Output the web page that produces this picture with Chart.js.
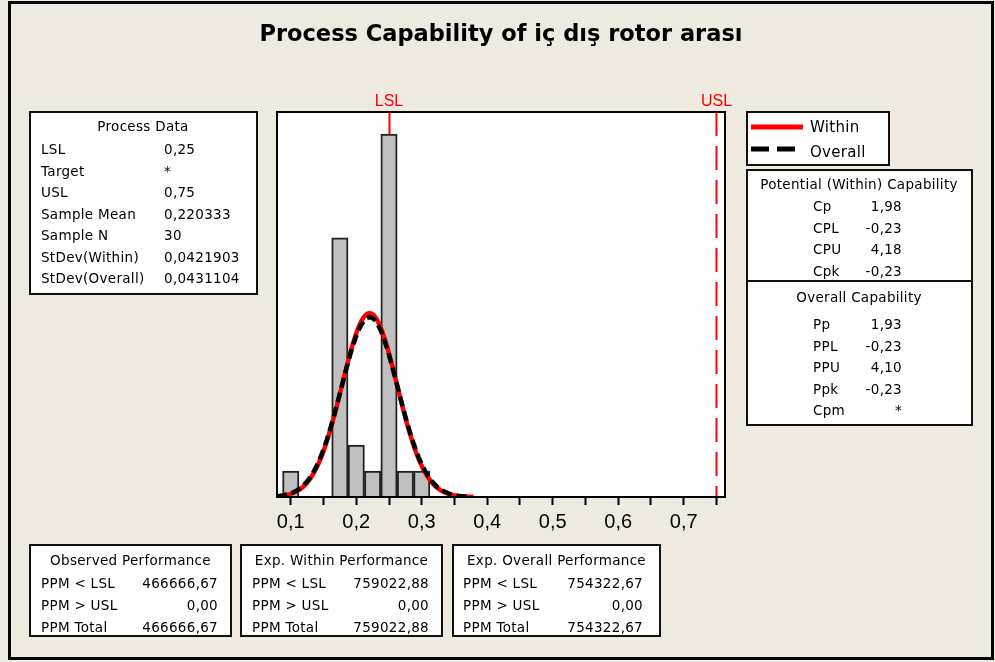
<!DOCTYPE html>
<html>
<head>
<meta charset="utf-8">
<script src="https://cdn.jsdelivr.net/npm/chart.js@4.4.1/dist/chart.umd.min.js"></script>
<style>
  html, body { margin: 0; padding: 0; background: #eeeae0; }
  canvas { display: block; }
</style>
</head>
<body>
<canvas id="capChart" width="995" height="662"></canvas>
<script>
// histogram of the sample (bin centres and counts)
const binCenters = [0.1, 0.125, 0.15, 0.175, 0.2, 0.225, 0.25, 0.275, 0.3];
const binCounts = [1, 0, 0, 10, 2, 1, 14, 1, 1];
const binWidth = 0.025;

// spec limits and fitted stats (from the Process Data box)
const lsl = 0.25;
const usl = 0.75;
const sampleMean = 0.220333;
const sampleN = 30;
const stdevWithin = 0.0421903;
const stdevOverall = 0.0431104;

const xTickValues = [0.1, 0.15, 0.2, 0.25, 0.3, 0.35, 0.4, 0.45, 0.5, 0.55, 0.6, 0.65, 0.7, 0.75];
const xTickLabels = ['0,1', '', '0,2', '', '0,3', '', '0,4', '', '0,5', '', '0,6', '', '0,7', ''];

const processLabels = ['LSL', 'Target', 'USL', 'Sample Mean', 'Sample N', 'StDev(Within)', 'StDev(Overall)'];
const processValues = ['0,25', '*', '0,75', '0,220333', '30', '0,0421903', '0,0431104'];

const withinLabels = ['Cp', 'CPL', 'CPU', 'Cpk'];
const withinValues = ['1,98', '-0,23', '4,18', '-0,23'];
const overallLabels = ['Pp', 'PPL', 'PPU', 'Ppk', 'Cpm'];
const overallValues = ['1,93', '-0,23', '4,10', '-0,23', '*'];

const perfLabels = ['PPM < LSL', 'PPM > USL', 'PPM Total'];
const observedPerf = ['466666,67', '0,00', '466666,67'];
const expWithinPerf = ['759022,88', '0,00', '759022,88'];
const expOverallPerf = ['754322,67', '0,00', '754322,67'];

const xMin = 0.079;
const xMax = 0.763;

// normal curve scaled to histogram counts
function normalCurve(sd, from, to) {
    const pts = [];
    for (let x = from; x <= to + 1e-9; x += 0.004) {
        const z = (x - sampleMean) / sd;
        pts.push({ x: x, y: sampleN * binWidth * Math.exp(-0.5 * z * z) / (sd * Math.sqrt(2 * Math.PI)) });
    }
    return pts;
}

function drawBox(ctx, l, t, r, b) {
    ctx.fillStyle = '#fff';
    ctx.fillRect(l, t, r - l, b - t);
    ctx.strokeStyle = '#111';
    ctx.lineWidth = 2;
    ctx.strokeRect(l, t, r - l, b - t);
}

const boxFont = '13.5px "DejaVu Sans"';

function drawPerfBox(ctx, l, t, r, b, title, values, labelX, valueX) {
    drawBox(ctx, l, t, r, b);
    ctx.fillStyle = '#000';
    ctx.textAlign = 'center';
    ctx.fillText(title, (l + r) / 2, 565);
    perfLabels.forEach((lab, i) => {
        const y = 588 + i * 22;
        ctx.textAlign = 'left';
        ctx.fillText(lab, labelX, y);
        ctx.textAlign = 'right';
        ctx.fillText(values[i], valueX, y);
    });
}

const decorPlugin = {
    id: 'decor',
    beforeDraw(chart) {
        const ctx = chart.ctx;
        const a = chart.chartArea;
        ctx.save();
        ctx.fillStyle = '#eeeae0';
        ctx.fillRect(0, 0, chart.width, chart.height);
        ctx.strokeStyle = '#000';
        ctx.lineWidth = 3;
        ctx.strokeRect(9.5, 2.5, 983, 656);
        ctx.fillStyle = '#fff';
        ctx.fillRect(a.left, a.top, a.right - a.left, a.bottom - a.top);
        ctx.restore();
    },
    beforeDatasetsDraw(chart) {
        const ctx = chart.ctx;
        const a = chart.chartArea;
        const xs = chart.scales.x;
        ctx.save();
        ctx.strokeStyle = '#ff0000';
        ctx.lineWidth = 2;
        ctx.setLineDash([24, 10]);
        [lsl, usl].forEach(v => {
            const px = Math.round(xs.getPixelForValue(v)) + 0.5;
            ctx.beginPath();
            ctx.moveTo(px, a.top);
            ctx.lineTo(px, a.bottom);
            ctx.stroke();
        });
        ctx.setLineDash([]);
        ctx.fillStyle = '#ff0000';
        ctx.font = '16px "Liberation Sans"';
        ctx.textAlign = 'center';
        ctx.fillText('LSL', xs.getPixelForValue(lsl), 106);
        ctx.fillText('USL', xs.getPixelForValue(usl), 106);
        ctx.restore();
    },
    afterDatasetsDraw(chart) {
        const ctx = chart.ctx;
        const a = chart.chartArea;
        ctx.save();
        ctx.strokeStyle = '#000';
        ctx.lineWidth = 2;
        ctx.strokeRect(a.left, a.top, a.right - a.left, a.bottom - a.top);
        ctx.restore();
    },
    afterDraw(chart) {
        const ctx = chart.ctx;
        ctx.save();
        ctx.fillStyle = '#000';
        ctx.font = 'bold 22.5px "DejaVu Sans"';
        ctx.textAlign = 'center';
        ctx.fillText('Process Capability of iç dış rotor arası', 501, 41);

        ctx.font = boxFont;
        ctx.letterSpacing = '0.3px';

        // process data
        drawBox(ctx, 30, 112, 257, 294);
        ctx.fillStyle = '#000';
        ctx.textAlign = 'center';
        ctx.fillText('Process Data', 143, 131);
        processLabels.forEach((lab, i) => {
            const y = 154 + i * 21.5;
            ctx.textAlign = 'left';
            ctx.fillText(lab, 41, y);
            ctx.fillText(processValues[i], 164, y);
        });

        // legend
        drawBox(ctx, 747, 112, 889, 165);
        ctx.lineWidth = 5;
        ctx.strokeStyle = '#ff0000';
        ctx.beginPath(); ctx.moveTo(751, 127); ctx.lineTo(803, 127); ctx.stroke();
        ctx.strokeStyle = '#000';
        ctx.setLineDash([18, 8]);
        ctx.beginPath(); ctx.moveTo(751, 149); ctx.lineTo(803, 149); ctx.stroke();
        ctx.setLineDash([]);
        ctx.fillStyle = '#000';
        ctx.font = '15px "DejaVu Sans"';
        ctx.textAlign = 'left';
        ctx.fillText('Within', 810, 132);
        ctx.fillText('Overall', 810, 157);

        // capability
        ctx.font = boxFont;
        drawBox(ctx, 747, 170, 972, 425);
        ctx.lineWidth = 2;
        ctx.beginPath(); ctx.moveTo(747, 281); ctx.lineTo(972, 281); ctx.stroke();
        ctx.fillStyle = '#000';
        ctx.textAlign = 'center';
        ctx.fillText('Potential (Within) Capability', 859, 189);
        ctx.fillText('Overall Capability', 859, 302);
        withinLabels.forEach((lab, i) => {
            const y = 211 + i * 21.7;
            ctx.textAlign = 'left';
            ctx.fillText(lab, 813, y);
            ctx.textAlign = 'right';
            ctx.fillText(withinValues[i], 902, y);
        });
        overallLabels.forEach((lab, i) => {
            const y = 329 + i * 21.5;
            ctx.textAlign = 'left';
            ctx.fillText(lab, 813, y);
            ctx.textAlign = 'right';
            ctx.fillText(overallValues[i], 902, y);
        });

        // performance
        drawPerfBox(ctx, 30, 545, 231, 636, 'Observed Performance', observedPerf, 41, 218);
        drawPerfBox(ctx, 241, 545, 442, 636, 'Exp. Within Performance', expWithinPerf, 252, 429);
        drawPerfBox(ctx, 453, 545, 660, 636, 'Exp. Overall Performance', expOverallPerf, 463, 643);
        ctx.restore();
    }
};

const ctx = document.getElementById('capChart').getContext('2d');
const chart = new Chart(ctx, {
    type: 'bar',
    data: {
        datasets: [
            {
                type: 'line',
                label: 'Overall',
                data: normalCurve(stdevOverall, xMin, 0.372),
                borderColor: '#000',
                borderWidth: 4.5,
                borderDash: [10, 5],
                pointRadius: 0,
                order: 1,
            },
            {
                type: 'line',
                label: 'Within',
                data: normalCurve(stdevWithin, xMin, 0.381),
                borderColor: '#ff0000',
                borderWidth: 4.5,
                pointRadius: 0,
                order: 2,
            },
            {
                type: 'bar',
                label: 'Count',
                data: binCenters.map((x, i) => ({ x: x, y: binCounts[i] })),
                backgroundColor: '#c0c0c0',
                borderColor: '#222',
                borderWidth: 2,
                barPercentage: 1,
                categoryPercentage: 1,
                order: 3,
            },
        ],
    },
    options: {
        responsive: false,
        animation: false,
        devicePixelRatio: 1,
        events: [],
        layout: { padding: { left: 277, right: 270, top: 112, bottom: 125 } },
        plugins: { legend: { display: false }, tooltip: { enabled: false } },
        scales: {
            x: {
                type: 'linear',
                min: xMin,
                max: xMax,
                offset: false,
                afterBuildTicks: (scale) => {
                    scale.ticks = xTickValues.map(v => ({ value: v }));
                },
                afterFit: (scale) => { scale.height = 40; },
                ticks: {
                    autoSkip: false,
                    maxRotation: 0,
                    padding: 5,
                    color: '#000',
                    font: { family: 'Liberation Sans', size: 20 },
                    callback: (value, index) => xTickLabels[index],
                },
                grid: {
                    offset: false,
                    drawOnChartArea: false,
                    drawTicks: true,
                    tickLength: 8,
                    tickWidth: 2,
                    tickColor: '#000',
                },
                border: { display: false },
            },
            y: {
                display: false,
                min: 0,
                max: 14.85,
            },
        },
    },
    plugins: [decorPlugin],
});
</script>
</body>
</html>
